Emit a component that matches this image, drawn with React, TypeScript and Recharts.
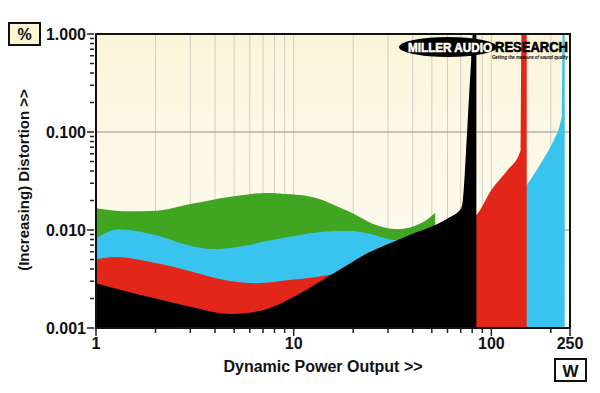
import { ComposedChart, Area, XAxis, YAxis, CartesianGrid } from "recharts"

// power in W, distortion in %
const greenPts = [
  { w: 1, pct: 0.0167 }, { w: 1.5, pct: 0.0155 }, { w: 2, pct: 0.0157 }, { w: 3, pct: 0.0184 },
  { w: 4.8, pct: 0.0219 }, { w: 7.3, pct: 0.0239 }, { w: 9.7, pct: 0.0231 }, { w: 12.7, pct: 0.0215 },
  { w: 18.7, pct: 0.0157 }, { w: 27.7, pct: 0.0108 }, { w: 33.6, pct: 0.0102 }, { w: 44, pct: 0.0117 },
  { w: 49, pct: 0.0135 }, { w: 52, pct: 0.015 },
]

const bluePts = [
  { w: 1, pct: 0.0082 }, { w: 1.3, pct: 0.0102 }, { w: 2, pct: 0.0089 }, { w: 3, pct: 0.0069 },
  { w: 3.9, pct: 0.0064 }, { w: 5.4, pct: 0.0068 }, { w: 7.3, pct: 0.0077 }, { w: 9.7, pct: 0.0086 },
  { w: 12.7, pct: 0.0094 }, { w: 18.7, pct: 0.0098 }, { w: 25.6, pct: 0.0089 }, { w: 32.3, pct: 0.0079 },
  { w: 45, pct: 0.008 }, { w: 60, pct: 0.009 }, { w: 75, pct: 0.0105 }, { w: 90, pct: 0.012 },
  { w: 110, pct: 0.015 }, { w: 130, pct: 0.02 }, { w: 151, pct: 0.0288 }, { w: 178, pct: 0.048 },
  { w: 207, pct: 0.083 }, { w: 222, pct: 0.118 }, { w: 228, pct: 0.155 }, { w: 229.5, pct: 1 },
  { w: 235, pct: 1 },
]

const redPts = [
  { w: 1, pct: 0.005 }, { w: 1.25, pct: 0.0053 }, { w: 2, pct: 0.0046 }, { w: 3, pct: 0.0038 },
  { w: 4.4, pct: 0.0031 }, { w: 6.5, pct: 0.00286 }, { w: 9.7, pct: 0.0031 }, { w: 12.7, pct: 0.0033 },
  { w: 15.4, pct: 0.0035 }, { w: 20, pct: 0.0038 }, { w: 30, pct: 0.0052 }, { w: 45, pct: 0.0072 },
  { w: 60, pct: 0.0095 }, { w: 75, pct: 0.0122 }, { w: 84, pct: 0.0142 }, { w: 100, pct: 0.0256 },
  { w: 121, pct: 0.041 }, { w: 139, pct: 0.061 }, { w: 141, pct: 0.068 }, { w: 142, pct: 1 },
  { w: 151, pct: 1 },
]

const blackPts = [
  { w: 1, pct: 0.00286 }, { w: 1.38, pct: 0.0024 }, { w: 2, pct: 0.002 }, { w: 3, pct: 0.00165 },
  { w: 4.8, pct: 0.00139 }, { w: 6.5, pct: 0.00147 }, { w: 8.3, pct: 0.00172 }, { w: 10.4, pct: 0.00217 },
  { w: 12.7, pct: 0.00275 }, { w: 15.4, pct: 0.00347 }, { w: 18.7, pct: 0.0044 }, { w: 22.8, pct: 0.0056 },
  { w: 27.7, pct: 0.0067 }, { w: 33.6, pct: 0.0079 }, { w: 40.8, pct: 0.0093 }, { w: 49.6, pct: 0.0108 },
  { w: 60.3, pct: 0.0132 }, { w: 70.4, pct: 0.0167 }, { w: 71.8, pct: 0.0202 }, { w: 75.5, pct: 0.105 },
  { w: 79.1, pct: 0.543 }, { w: 80.8, pct: 1 }, { w: 84, pct: 1 },
]

const xTicks = [1, 2, 3, 4, 5, 6, 7, 8, 9, 10, 20, 30, 40, 50, 60, 70, 80, 90, 100, 200, 250]
const xLabelled = [1, 10, 100, 250]
const xGrid = [2, 3, 4, 5, 6, 7, 8, 9, 10, 20, 30, 40, 50, 60, 70, 80, 90, 100, 200]

const yTicks = [
  0.001, 0.002, 0.003, 0.004, 0.005, 0.006, 0.007, 0.008, 0.009,
  0.01, 0.02, 0.03, 0.04, 0.05, 0.06, 0.07, 0.08, 0.09,
  0.1, 0.2, 0.3, 0.4, 0.5, 0.6, 0.7, 0.8, 0.9, 1,
]
const yLabelled = [0.001, 0.01, 0.1, 1]
const yGrid = [0.01, 0.1]

const FONT = "'Liberation Sans', Arial, sans-serif"

const XTick = ({ x, y, payload }: any) => {
  const major = xLabelled.includes(payload.value)
  return (
    <g>
      <line x1={x} x2={x} y1={y + 1} y2={y + (major ? 8 : 5)} stroke="#222" strokeWidth={1.5} />
      {major && (
        <text x={x} y={y + 21} textAnchor="middle" fontFamily={FONT} fontWeight="bold" fontSize={16} fill="#111">
          {payload.value}
        </text>
      )}
    </g>
  )
}

const YTick = ({ x, y, payload }: any) => {
  const major = yLabelled.some((v) => Math.abs(v - payload.value) < 1e-9)
  return (
    <g>
      <line x1={x - (major ? 9 : 6)} x2={x - 2} y1={y} y2={y} stroke="#222" strokeWidth={1.5} />
      {major && (
        <text x={x - 10} y={y + 6} textAnchor="end" fontFamily={FONT} fontWeight="bold" fontSize={16} fill="#111">
          {payload.value.toFixed(3)}
        </text>
      )}
    </g>
  )
}

export default function App() {
  return (
    <div style={{ position: "absolute", left: 0, top: 0, width: 600, height: 393, background: "#fff" }}>
      <ComposedChart width={600} height={393} margin={{ top: 34, right: 30, bottom: 0, left: 0 }}>
        <defs>
          <linearGradient id="plotBg" x1="0" y1="0" x2="0" y2="1">
            <stop offset="0%" stopColor="#fbf5da" />
            <stop offset="100%" stopColor="#fffdf6" />
          </linearGradient>
        </defs>
        <CartesianGrid horizontal={false} verticalValues={xGrid} stroke="#cfcdc4" fill="url(#plotBg)" />
        <CartesianGrid vertical={false} horizontalValues={yGrid} stroke="#8f8f8f" />
        <XAxis
          dataKey="w"
          type="number"
          scale="log"
          domain={[1, 250]}
          allowDataOverflow
          ticks={xTicks}
          interval={0}
          tick={<XTick />}
          tickLine={false}
          axisLine={false}
          tickSize={0}
          tickMargin={0}
          height={65}
        />
        <YAxis
          type="number"
          scale="log"
          domain={[0.001, 1]}
          allowDataOverflow
          ticks={yTicks}
          interval={0}
          tick={<YTick />}
          tickLine={false}
          axisLine={false}
          tickSize={0}
          tickMargin={0}
          width={96}
        />
        <Area data={greenPts} dataKey="pct" type="monotone" baseValue={0.001} fill="#40a520" fillOpacity={1} stroke="none" isAnimationActive={false} />
        <Area data={bluePts} dataKey="pct" type="monotone" baseValue={0.001} fill="#38c4ef" fillOpacity={1} stroke="none" isAnimationActive={false} />
        <Area data={redPts} dataKey="pct" type="monotone" baseValue={0.001} fill="#e2271a" fillOpacity={1} stroke="none" isAnimationActive={false} />
        <Area data={blackPts} dataKey="pct" type="monotone" baseValue={0.001} fill="#000000" fillOpacity={1} stroke="none" isAnimationActive={false} />
      </ComposedChart>
      <svg width={600} height={393} style={{ position: "absolute", left: 0, top: 0, pointerEvents: "none" }}>
        <rect x={96} y={34} width={474} height={294} fill="none" stroke="#111" strokeWidth={2} />
        <ellipse cx={448} cy={47} rx={49} ry={10} fill="#000" />
        <text x={450} y={52} textAnchor="middle" fontFamily={FONT} fontWeight="bold" fontSize={13} fill="#fff" stroke="#fff" strokeWidth={0.6} textLength={84} lengthAdjust="spacingAndGlyphs">
          MILLER AUDIO
        </text>
        <text x={495} y={52} fontFamily={FONT} fontWeight="bold" fontSize={14} fill="#000" stroke="#000" strokeWidth={0.6} textLength={73} lengthAdjust="spacingAndGlyphs">
          RESEARCH
        </text>
        <text x={492} y={58.5} fontFamily={FONT} fontWeight="bold" fontStyle="italic" fontSize={6} fill="#000" textLength={76} lengthAdjust="spacingAndGlyphs">
          Getting the measure of sound quality
        </text>
        <rect x={9} y={23} width={31} height={22} fill="#fcf6d6" stroke="#111" strokeWidth={2} />
        <text x={24.5} y={40} textAnchor="middle" fontFamily={FONT} fontWeight="bold" fontSize={16} fill="#111">%</text>
        <rect x={555} y={359} width={31} height={22} fill="#fff" stroke="#111" strokeWidth={2} />
        <text x={570.5} y={377} textAnchor="middle" fontFamily={FONT} fontWeight="bold" fontSize={17} fill="#111">W</text>
        <text x={323} y={372} textAnchor="middle" fontFamily={FONT} fontWeight="bold" fontSize={16} fill="#111">
          Dynamic Power Output &gt;&gt;
        </text>
        <text x={29} y={180} textAnchor="middle" transform="rotate(-90 29 180)" fontFamily={FONT} fontWeight="bold" fontSize={15} fill="#111">
          (Increasing) Distortion &gt;&gt;
        </text>
      </svg>
    </div>
  )
}
